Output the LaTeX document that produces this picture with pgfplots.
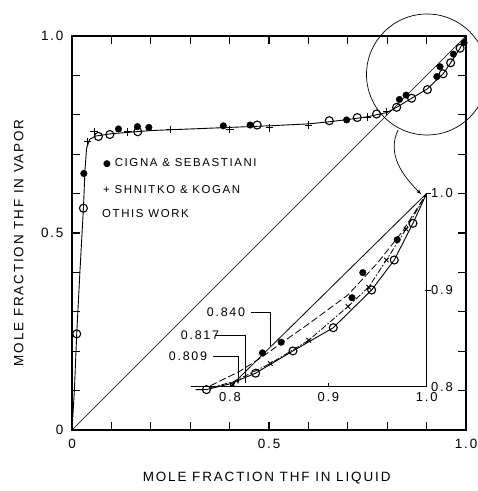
\documentclass[border=0pt]{standalone}
\usepackage{fontspec}
\setmainfont{Liberation Sans}
\newfontfamily\lab{Liberation Sans}[LetterSpace=14]
\newfontfamily\sym{DejaVu Sans}
\usepackage{pgfplots}
\pgfplotsset{compat=1.18}
\usetikzlibrary{arrows.meta}

% main data
\pgfplotstableread{
x y
0.030 0.651
0.118 0.764
0.166 0.770
0.195 0.768
0.384 0.772
0.452 0.774
0.697 0.787
0.831 0.839
0.848 0.850
0.926 0.897
0.934 0.922
0.968 0.954
0.995 0.983
}\cigna
\pgfplotstableread{
x y
0.039 0.732
0.056 0.757
0.142 0.757
0.249 0.763
0.401 0.763
0.501 0.767
0.600 0.774
0.750 0.794
0.799 0.808
}\shnitko
\pgfplotstableread{
x y
0.012 0.244
0.029 0.563
0.067 0.745
0.096 0.750
0.167 0.757
0.470 0.774
0.653 0.785
0.724 0.793
0.773 0.802
0.824 0.819
0.862 0.842
0.902 0.864
0.942 0.904
0.961 0.932
0.985 0.969
}\thiswork

\begin{document}
\begin{tikzpicture}
\begin{axis}[
  at={(0bp,0bp)}, anchor=south west,
  scale only axis,
  width=394bp, height=394bp,
  xmin=0, xmax=1, ymin=0, ymax=1,
  xtick={0,0.5,1}, xticklabels={0,0.5,1.0},
  ytick={0,0.5,1}, yticklabels={0,0.5,1.0},
  major tick length=0pt,
  axis line style={line width=2bp},
  tick label style={font=\lab\fontsize{13.5}{15}\selectfont},
  xticklabel style={yshift=-6bp},
  yticklabel style={xshift=-5bp},
  xlabel={MOLE FRACTION THF IN LIQUID},
  ylabel={MOLE FRACTION THF IN VAPOR},
  label style={font=\lab\fontsize{13.5}{15}\selectfont},
  xlabel style={at={(axis description cs:0.494,-0.122)}, anchor=center},
  ylabel style={at={(axis description cs:-0.135,0.475)}, anchor=center},
  clip=false,
]
\addplot[black, line width=0.7bp] coordinates {(0,0) (1,1)};
\addplot[black, line width=0.9bp] coordinates {
  (0,0) (0.006,0.10) (0.012,0.244) (0.020,0.40) (0.029,0.563) (0.033,0.66)
  (0.037,0.715) (0.045,0.738) (0.06,0.746) (0.10,0.752) (0.20,0.760)
  (0.30,0.764) (0.40,0.768) (0.50,0.772) (0.60,0.777) (0.65,0.782)
  (0.70,0.788) (0.75,0.795) (0.80,0.806) (0.824,0.819) (0.862,0.842)
  (0.902,0.866) (0.942,0.904) (0.961,0.932) (0.985,0.969) (1,1)};
\addplot[only marks, mark=*, mark size=3.3bp, black] table {\cigna};
\addplot[only marks, mark=+, mark size=3.8bp, black, line width=1bp] table {\shnitko};
\addplot[only marks, mark=o, mark size=4bp, black, line width=1.1bp,
  mark options={fill=white}] table {\thiswork};
\end{axis}

% inward ticks every 0.1 on all four sides of the main frame (394bp square)
\foreach \t in {1,...,9} {
  \draw[line width=1.3bp] (\t*39.4bp,0bp) -- ++(0bp,8bp);
  \draw[line width=1.3bp] (\t*39.4bp,394bp) -- ++(0bp,-8bp);
  \draw[line width=1.3bp] (0bp,\t*39.4bp) -- ++(8bp,0bp);
  \draw[line width=1.3bp] (394bp,\t*39.4bp) -- ++(-8bp,0bp);
}

% inset
\begin{axis}[
  at={(118.7bp,43.3bp)}, anchor=south west,
  scale only axis,
  width=236bp, height=193.4bp,
  xmin=0.76, xmax=1.0, ymin=0.8, ymax=1.0,
  axis x line*=bottom, axis y line*=right,
  xtick={0.8,0.9,1.0}, xticklabels={0.8,0.9,1.0},
  ytick={0.8,0.9,1.0}, yticklabels={0.8,0.9,1.0},
  major tick length=0pt,
  axis line style={line width=0.9bp},
  tick label style={font=\lab\fontsize{13}{15}\selectfont},
  xticklabel style={yshift=-2bp},
  yticklabel style={xshift=1bp},
  clip=false,
]
\addplot[black, line width=0.8bp] coordinates {(0.8,0.8) (1,1)};
\addplot[black, line width=0.8bp, dash pattern=on 7bp off 3bp] coordinates {
  (0.78,0.801) (0.81,0.816) (0.833,0.831) (0.852,0.845) (0.88,0.865)
  (0.92,0.895) (0.95,0.928) (0.975,0.960) (1,1)};
\addplot[black, line width=0.8bp, dash pattern=on 6bp off 2bp on 1.5bp off 2bp] coordinates {
  (0.78,0.799) (0.803,0.805) (0.841,0.824) (0.880,0.848) (0.920,0.883)
  (0.941,0.903) (0.959,0.931) (0.979,0.963) (1,1)};
\addplot[black, line width=0.9bp] coordinates {
  (0.765,0.797) (0.776,0.797) (0.80,0.803) (0.826,0.814) (0.864,0.837)
  (0.905,0.861) (0.944,0.900) (0.967,0.931) (0.986,0.969) (1,1)};
\addplot[only marks, mark=*, mark size=3.3bp, black] coordinates {
  (0.833,0.835) (0.852,0.846) (0.924,0.892) (0.935,0.918) (0.970,0.952)};
\addplot[only marks, mark=x, mark size=3.2bp, black, line width=0.9bp] coordinates {
  (0.803,0.802) (0.841,0.824) (0.880,0.848) (0.920,0.883) (0.941,0.903)
  (0.959,0.931) (0.979,0.963)};
\addplot[only marks, mark=o, mark size=4bp, black, line width=1.1bp,
  mark options={fill=white}] coordinates {
  (0.776,0.797) (0.826,0.814) (0.864,0.837) (0.905,0.861) (0.944,0.900)
  (0.967,0.931) (0.986,0.969)};
% small inset ticks
\draw[line width=0.8bp] (axis cs:0.9,0.8) -- ++(0pt,4bp);
\draw[line width=0.8bp] (axis cs:0.8,0.8) -- ++(0pt,4bp);
\draw[line width=0.8bp] (axis cs:1,0.9) ++(-2bp,0pt) -- ++(6bp,0pt);
\draw[line width=0.8bp] (axis cs:1,1) -- ++(4bp,0pt);
\end{axis}

% legend text
\begin{scope}[every node/.style={font=\lab\fontsize{11.5}{13}\selectfont, inner sep=0pt}]
\node[anchor=west] at (31bp,267.3bp) {{\sym\fontsize{9}{10}\selectfont ●}\,\,CIGNA \& SEBASTIANI};
\node[anchor=west] at (31bp,240.7bp) {+ SHNITKO \& KOGAN};
\node[anchor=west] at (30bp,216bp) {OTHIS WORK};
\end{scope}

% leaders for azeotrope labels
\begin{scope}[line width=0.7bp, every node/.style={font=\lab\fontsize{12.5}{14}\selectfont, inner sep=0pt}]
\node at (154bp,118bp) {0.840};
\draw (179bp,118bp) -- (198bp,118bp) -- (198bp,84bp);
\node at (128bp,95bp) {0.817};
\draw (143bp,95bp) -- (173bp,95bp) -- (173bp,47bp);
\node at (116bp,74bp) {0.809};
\draw[-{Stealth[length=4bp]}] (141bp,74bp) -- (166bp,74bp) -- (166bp,46bp);
\end{scope}

% magnifier
\draw[line width=0.7bp] (355bp,355.5bp) circle[radius=60.5bp];
\draw[line width=0.7bp, -{Stealth[length=5bp]}] (326bp,300bp) to[out=245,in=135] (349bp,236bp);

\pgfresetboundingbox
\path[use as bounding box] (-72bp,-61bp) rectangle (406bp,430bp);
\end{tikzpicture}
\end{document}
